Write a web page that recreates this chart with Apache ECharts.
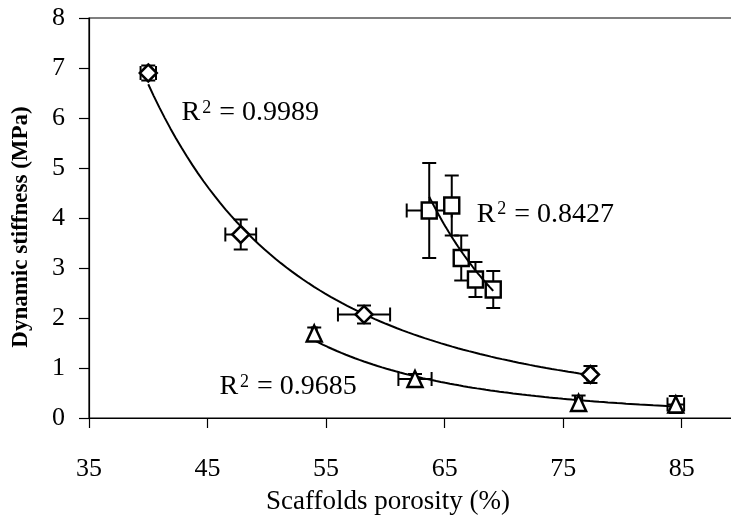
<!DOCTYPE html>
<html>
<head>
<meta charset="utf-8">
<script src="https://cdn.jsdelivr.net/npm/echarts@6/dist/echarts.min.js"></script>
<style>
  html, body { margin: 0; padding: 0; background: #fff; }
  #chart { width: 731px; height: 531px; }
</style>
</head>
<body>
<div id="chart"></div>
<script>
// Scaffold groups: porosity (%) vs dynamic stiffness (MPa), with standard deviations
const diamondPorosity      = [40.0, 47.8, 58.2, 77.3];
const diamondStiffness     = [6.90, 3.67, 2.07, 0.87];
const diamondPorosityErr   = [0.65, 1.3, 2.2, 0.3];
const diamondStiffnessErr  = [0.15, 0.30, 0.18, 0.17];

const squarePorosity       = [63.7, 65.6, 66.4, 67.6, 69.1];
const squareStiffness      = [4.15, 4.25, 3.20, 2.77, 2.57];
const squarePorosityErr    = [1.9, 0.3, 0.3, 0.3, 0.3];
const squareStiffnessErr   = [0.95, 0.60, 0.45, 0.35, 0.37];

const trianglePorosity     = [54.0, 62.5, 76.3, 84.5];
const triangleStiffness    = [1.69, 0.78, 0.30, 0.27];
const trianglePorosityErr  = [0.2, 1.4, 0.3, 0.7];
const triangleStiffnessErr = [0.12, 0.10, 0.15, 0.17];

// Coefficients of determination reported for the power trendlines
const r2Values = ['0.9989', '0.8427', '0.9685'];

// Axis tick labels
const xTickValues = [35, 45, 55, 65, 75, 85];
const yTickValues = [0, 1, 2, 3, 4, 5, 6, 7, 8];

const FONT = '"Liberation Serif", "Times New Roman", serif';
const CAP = 14;

// Least-squares power trendline y = a * x^b (fit in log-log space)
function powerFit(xs, ys) {
  const n = xs.length;
  const lx = xs.map(Math.log), ly = ys.map(Math.log);
  const mx = lx.reduce((s, v) => s + v, 0) / n;
  const my = ly.reduce((s, v) => s + v, 0) / n;
  let sxy = 0, sxx = 0;
  for (let i = 0; i < n; i++) {
    sxy += (lx[i] - mx) * (ly[i] - my);
    sxx += (lx[i] - mx) * (lx[i] - mx);
  }
  const b = sxy / sxx;
  return { a: Math.exp(my - b * mx), b };
}

function trendPoints(xs, ys, steps) {
  const { a, b } = powerFit(xs, ys);
  const lo = Math.min(...xs), hi = Math.max(...xs);
  const pts = [];
  for (let i = 0; i <= steps; i++) {
    const x = lo + (hi - lo) * i / steps;
    pts.push([x, a * Math.pow(x, b)]);
  }
  return pts;
}

function errorBars(xs, ys, xe, ye) {
  return {
    type: 'custom',
    z: 1,
    silent: true,
    encode: { x: 0, y: 1 },
    data: xs.map((x, i) => [x, ys[i], xe[i], ye[i]]),
    renderItem(params, api) {
      const x = api.value(0), y = api.value(1);
      const dx = api.value(2), dy = api.value(3);
      const c = api.coord([x, y]);
      const l = api.coord([x - dx, y]), r = api.coord([x + dx, y]);
      const t = api.coord([x, y + dy]), b = api.coord([x, y - dy]);
      const h = CAP / 2;
      const style = { stroke: '#000', lineWidth: 2, fill: null };
      const seg = (x1, y1, x2, y2) => ({ type: 'line', shape: { x1, y1, x2, y2 }, style });
      return {
        type: 'group',
        children: [
          seg(l[0], c[1], r[0], c[1]),
          seg(l[0], c[1] - h, l[0], c[1] + h),
          seg(r[0], c[1] - h, r[0], c[1] + h),
          seg(c[0], t[1], c[0], b[1]),
          seg(c[0] - h, t[1], c[0] + h, t[1]),
          seg(c[0] - h, b[1], c[0] + h, b[1])
        ]
      };
    }
  };
}

function markers(xs, ys, symbol, size, z) {
  return {
    type: 'scatter',
    z,
    silent: true,
    symbol,
    symbolSize: size,
    itemStyle: { color: '#fff', borderColor: '#000', borderWidth: 2.5, opacity: 1 },
    data: xs.map((x, i) => [x, ys[i]])
  };
}

function trend(xs, ys, z) {
  return {
    type: 'line',
    z,
    silent: true,
    showSymbol: false,
    symbol: 'none',
    lineStyle: { color: '#000', width: 2 },
    data: trendPoints(xs, ys, 80)
  };
}

const measureCtx = document.createElement('canvas').getContext('2d');
function textWidth(str, size) {
  measureCtx.font = size + 'px ' + FONT;
  return measureCtx.measureText(str).width;
}

// R² annotations: anchored at data coordinates (left edge, vertical middle)
const r2Series = {
  type: 'custom',
  z: 10,
  silent: true,
  encode: { x: 0, y: 1 },
  data: [[42.8, 6.1, 0], [67.7, 4.07, 1], [46.0, 0.62, 2]],
  renderItem(params, api) {
    const p = api.coord([api.value(0), api.value(1)]);
    const label = r2Values[api.value(2)];
    const big = 28, small = 18;
    const rW = textWidth('R', big);
    const sW = textWidth('2', small);
    const txt = (text, x, y, size) => ({
      type: 'text', x, y,
      style: { text, fill: '#000', fontSize: size, fontFamily: FONT, align: 'left', verticalAlign: 'middle' }
    });
    return {
      type: 'group',
      children: [
        txt('R', p[0], p[1], big),
        txt('2', p[0] + rW + 2, p[1] - 5, small),
        txt(' = ' + label, p[0] + rW + 2 + sW + 1, p[1], big)
      ]
    };
  }
};

const axisLineStyle = { color: '#000', width: 1.2 };

const option = {
  animation: false,
  backgroundColor: '#fff',
  grid: {
    left: 89, top: 18, right: -10, bottom: 113,
    show: true, borderColor: '#000', borderWidth: 1.2,
    containLabel: false, outerBoundsMode: 'none'
  },
  xAxis: {
    type: 'value',
    min: 35, max: 90, interval: 10,
    axisLine: { show: true, onZero: false, lineStyle: axisLineStyle },
    axisTick: { show: true, inside: false, length: 10, lineStyle: axisLineStyle },
    axisLabel: {
      margin: 38, fontSize: 26, fontFamily: FONT, color: '#000',
      showMaxLabel: false,
      formatter: v => (xTickValues.includes(v) ? String(v) : '')
    },
    splitLine: { show: false },
    name: 'Scaffolds porosity (%)',
    nameLocation: 'middle',
    nameGap: 70,
    nameTextStyle: { fontSize: 27, fontFamily: FONT, color: '#000', padding: [0, 54, 0, 0] }
  },
  yAxis: {
    type: 'value',
    min: 0, max: 8, interval: 1,
    axisLine: { show: true, onZero: false, lineStyle: axisLineStyle },
    axisTick: { show: true, inside: false, length: 10, lineStyle: axisLineStyle },
    axisLabel: {
      margin: 24, fontSize: 26, fontFamily: FONT, color: '#000',
      formatter: v => (yTickValues.includes(v) ? String(v) : '')
    },
    splitLine: { show: false },
    name: 'Dynamic stiffness (MPa)',
    nameLocation: 'middle',
    nameRotate: 90,
    nameGap: 56,
    nameTextStyle: { fontSize: 23, fontWeight: 'bold', fontFamily: FONT, color: '#000', padding: [0, 18, 0, 0] }
  },
  series: [
    errorBars(diamondPorosity, diamondStiffness, diamondPorosityErr, diamondStiffnessErr),
    errorBars(trianglePorosity, triangleStiffness, trianglePorosityErr, triangleStiffnessErr),
    errorBars(squarePorosity, squareStiffness, squarePorosityErr, squareStiffnessErr),
    trend(diamondPorosity, diamondStiffness, 2),
    trend(trianglePorosity, triangleStiffness, 2),
    markers(diamondPorosity, diamondStiffness, 'diamond', 17, 3),
    markers(trianglePorosity, triangleStiffness, 'triangle', [15, 16], 3),
    markers(squarePorosity, squareStiffness, 'rect', [15, 16], 3),
    trend(squarePorosity, squareStiffness, 4),
    r2Series
  ]
};

const chart = echarts.init(document.getElementById('chart'));
chart.setOption(option);
</script>
</body>
</html>
